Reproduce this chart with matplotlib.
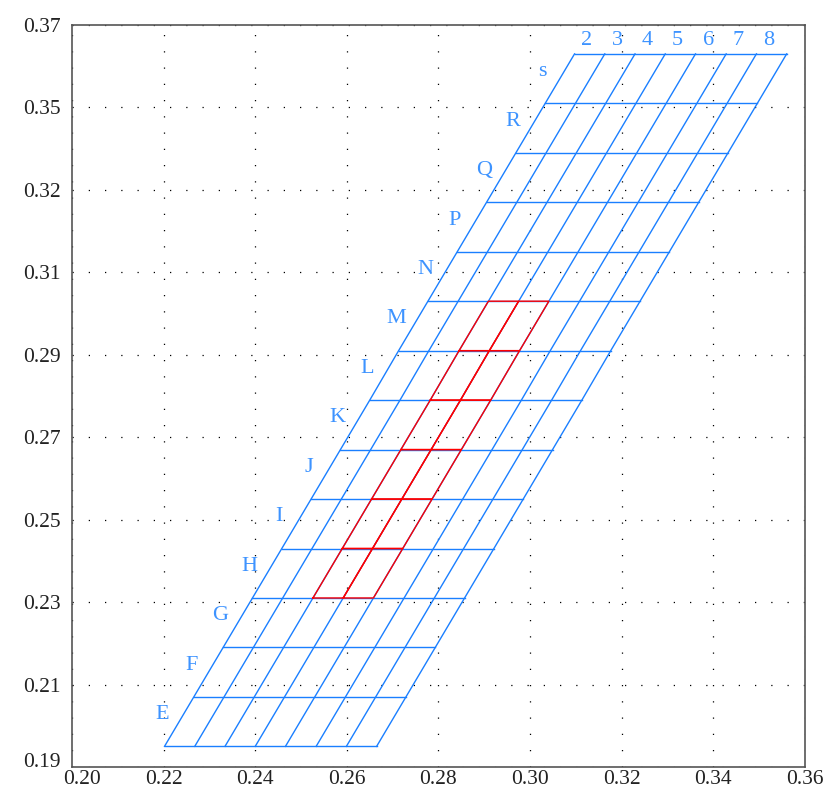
import matplotlib
matplotlib.use("Agg")
import matplotlib.pyplot as plt
from matplotlib.transforms import ScaledTranslation

# ---- data ----
row_labels = ['E', 'F', 'G', 'H', 'I', 'J', 'K', 'L', 'M', 'N', 'P', 'Q', 'R', 's']
col_labels = ['2', '3', '4', '5', '6', '7', '8']
row_y = [0.195, 0.207, 0.219, 0.231, 0.243, 0.255, 0.267, 0.279, 0.291,
         0.303, 0.315, 0.327, 0.339, 0.351, 0.363]
row_left_x = [0.2202, 0.2266, 0.2330, 0.2394, 0.2458, 0.2522, 0.2586, 0.2650,
              0.2713, 0.2777, 0.2841, 0.2905, 0.2969, 0.3033, 0.3097]
col_offsets = [0.0, 0.0066, 0.0132, 0.0198, 0.0264, 0.0331, 0.0397, 0.0463]
red_rows = [3, 4, 5, 6, 7, 8]
red_cols = [2, 3]
xtick_vals = [0.20, 0.22, 0.24, 0.26, 0.28, 0.30, 0.32, 0.34, 0.36]
xtick_labels = ['0.20', '0.22', '0.24', '0.26', '0.28', '0.30', '0.32', '0.34', '0.36']
ytick_vals = [0.19, 0.21, 0.23, 0.25, 0.27, 0.29, 0.31, 0.33, 0.35, 0.37]
ytick_labels = ['0.19', '0.21', '0.23', '0.25', '0.27', '0.29', '0.31', '0.32', '0.35', '0.37']

BLUE = '#1a7fff'
LABEL_BLUE = '#3d93ff'
RED = '#ff0000'
FONT = ['Liberation Serif', 'DejaVu Serif']

fig = plt.figure(figsize=(8.31, 7.92), dpi=100)
ax = fig.add_axes([0.0866, 0.0316, 0.8821, 0.9368])
ax.set_xlim(0.20, 0.36)
ax.set_ylim(0.19, 0.37)

# ticks and grid
ax.set_xticks(xtick_vals)
ax.set_xticklabels(xtick_labels, fontfamily=FONT, fontsize=15.5)
ax.set_yticks(ytick_vals)
ax.set_yticklabels(ytick_labels, fontfamily=FONT, fontsize=15.5)
ax.tick_params(axis='y', length=0, pad=8, colors='#222222')
ax.tick_params(axis='x', length=0, pad=2, colors='#222222')
ax.grid(True, color='black', linestyle=(0, (1, 12)), linewidth=0.9, zorder=0)
for s in ax.spines.values():
    s.set_color('#555555')
    s.set_linewidth(1.2)

# nudge corner labels inward so they don't collide
xl0 = ax.get_xticklabels()[0]
xl0.set_transform(xl0.get_transform() + ScaledTranslation(0.10, 0, fig.dpi_scale_trans))
yl0 = ax.get_yticklabels()[0]
yl0.set_transform(yl0.get_transform() + ScaledTranslation(0, 0.07, fig.dpi_scale_trans))

# horizontal bin lines
width = col_offsets[-1]
for y, xl in zip(row_y, row_left_x):
    ax.plot([xl, xl + width], [y, y], color=BLUE, lw=1.0, zorder=2)

# slanted bin lines
for off in col_offsets:
    ax.plot([xl + off for xl in row_left_x], row_y, color=BLUE, lw=1.0, zorder=2)

# red cells
for r in red_rows:
    for c in red_cols:
        xs = [row_left_x[r] + col_offsets[c], row_left_x[r] + col_offsets[c + 1],
              row_left_x[r + 1] + col_offsets[c + 1], row_left_x[r + 1] + col_offsets[c],
              row_left_x[r] + col_offsets[c]]
        ys = [row_y[r], row_y[r], row_y[r + 1], row_y[r + 1], row_y[r]]
        ax.plot(xs, ys, color=RED, lw=1.0, zorder=3)

# row labels
for i, lab in enumerate(row_labels):
    ym = (row_y[i] + row_y[i + 1]) / 2
    xm = (row_left_x[i] + row_left_x[i + 1]) / 2
    ax.annotate(lab, (xm, ym), xytext=(-12.5, 5), textcoords='offset points',
                ha='center', va='center', color=LABEL_BLUE, fontsize=16,
                fontfamily=FONT, zorder=4)

# column labels
for j, lab in enumerate(col_labels):
    xm = row_left_x[-1] + (col_offsets[j] + col_offsets[j + 1]) / 2
    ax.annotate(lab, (xm, row_y[-1]), xytext=(-2, 9.5), textcoords='offset points',
                ha='center', va='center', color=LABEL_BLUE, fontsize=16,
                fontfamily=FONT, zorder=4)

fig.savefig('out.png', dpi=100)
